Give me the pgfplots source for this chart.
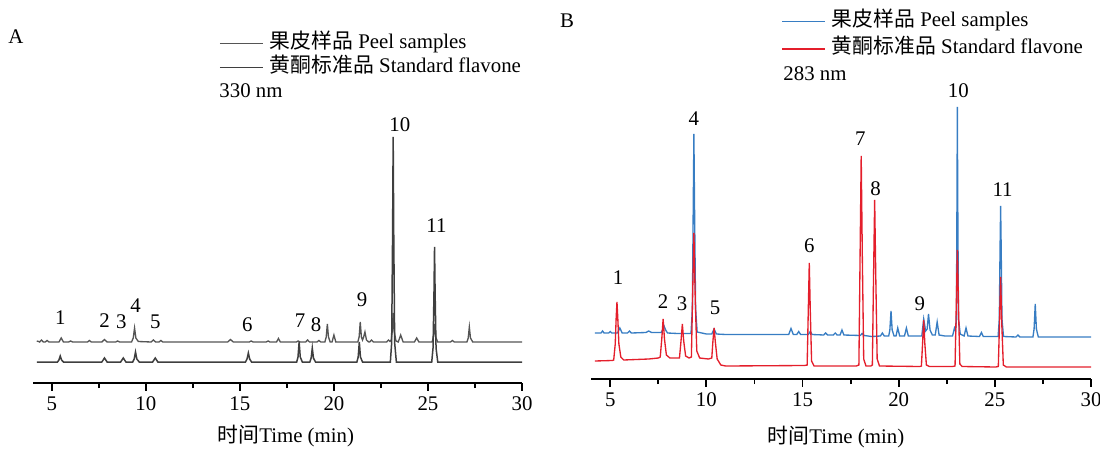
\documentclass[border=0pt]{standalone}
\usepackage{fontspec}
\setmainfont{Liberation Serif}
\newfontfamily\cjk{Noto Sans CJK SC}
\usepackage{pgfplots}
\pgfplotsset{compat=1.18}
\definecolor{peelA}{HTML}{555555}
\definecolor{stdA}{HTML}{3F3F3F}
\definecolor{peelB}{HTML}{377DC3}
\definecolor{stdB}{HTML}{E41E2B}
\newcommand\fs{\fontsize{12.5}{14}\selectfont}
\pgfplotsset{
  chrom/.style={
    scale only axis, clip=false,
    axis x line=bottom, axis y line=none,
    axis line style={-, line width=1.1pt},
    xmin=4, xmax=30, ymin=0,
    xtick={5,10,...,30}, minor xtick={7.5,12.5,...,27.5},
    tick align=outside, major tick length=4.5pt, minor tick length=3pt,
    every tick/.style={line width=1.1pt, black},
    /pgf/number format/assume math mode=true,
    ticklabel style={font=\fs},
    label style={font=\fs},
    legend cell align=left,
    legend image code/.code={\draw[#1] (0pt,0pt) -- (26pt,0pt); \path (28.5pt,0pt);},
    legend style={draw=none, fill=none, inner sep=0pt, font=\fs,
      nodes={inner sep=1pt, text height=9pt, text depth=3pt}},
  },
}
\begin{document}
\begin{tikzpicture}
\path[use as bounding box] (0,0) rectangle (660pt,270.6pt);
\node[font=\fs] at (9.6pt,248.4pt) {A};
\node[font=\fs] at (340.2pt,258pt) {B};

% panel A, 330 nm
\begin{axis}[chrom,
  at={(19.8pt,40.8pt)}, anchor=south west,
  width=293.4pt, height=217.8pt, ymax=363,
  xlabel={{\cjk 时间}Time (min)},
  xlabel style={at={(axis description cs:0.517,0)}, anchor=center, yshift=-32pt},
  legend style={at={(0.38,0.968)}, anchor=north west, row sep=0.4pt},
]
\addplot[peelA, line width=0.8pt] coordinates {
(4.2,42) (4.3,41.5) (4.35,41) (4.45,43) (4.55,41) (4.65,41) (4.75,42.5) (4.85,41)
(5.38,41) (5.5,45) (5.62,41) (5.9,41) (6.0,42) (6.1,41) (6.9,41) (7.0,42.5) (7.1,41)
(7.66,41) (7.8,43.5) (7.94,41) (8.4,41) (8.5,42) (8.6,41)
(9.24,41) (9.33,45) (9.4,55) (9.47,45) (9.6,41.5)
(10.28,41) (10.4,43) (10.52,41) (10.7,41) (10.8,42.5) (10.9,41)
(14.35,41) (14.5,43.5) (14.65,41) (15.5,41) (15.6,42) (15.7,41) (16.4,41) (16.5,42) (16.6,41)
(16.95,41) (17.05,44.5) (17.15,41) (18.0,41) (18.1,42) (18.2,41) (18.5,41) (18.6,43) (18.7,41)
(19.1,41) (19.2,42.5) (19.3,41)
(19.52,41) (19.59,46) (19.65,59) (19.71,46) (19.8,41) (19.9,41) (20.0,48) (20.1,41)
(21.27,41) (21.34,46) (21.4,61) (21.46,46) (21.52,43) (21.58,46) (21.65,51) (21.73,43) (21.85,41)
(21.9,41) (22.0,43) (22.1,41) (22.8,41) (22.9,43) (22.98,41.5)
(23.05,43) (23.1,52) (23.15,70) (23.2,52) (23.3,42)
(23.42,41) (23.55,48) (23.68,41) (24.28,41) (24.4,45) (24.52,41)
(25.22,41) (25.29,46) (25.35,59) (25.41,46) (25.52,41)
(26.2,41) (26.3,42.5) (26.4,41)
(27.07,41) (27.14,45) (27.2,56) (27.26,45) (27.38,41) (30,41)
};
\addlegendentry{{\cjk 果皮样品} Peel samples}
\addplot[stdA, line width=0.9pt] coordinates {
(4.2,21) (5.3,21) (5.38,23) (5.45,27) (5.52,23) (5.62,21)
(7.66,21) (7.8,25) (7.94,21) (8.66,21) (8.8,25) (8.94,21)
(9.3,21) (9.38,24) (9.45,31) (9.52,24) (9.65,21)
(10.36,21) (10.5,25) (10.64,21)
(15.3,21) (15.38,24) (15.45,30) (15.52,24) (15.62,21)
(18.02,21) (18.09,26) (18.15,41) (18.21,26) (18.32,21)
(18.72,21) (18.79,25) (18.85,35) (18.91,25) (19.02,21)
(21.22,21) (21.29,26) (21.35,41) (21.41,26) (21.52,21)
(23.0,21) (23.07,40) (23.12,150) (23.15,246) (23.18,150) (23.23,40) (23.32,21)
(25.2,21) (25.27,35) (25.32,90) (25.35,136) (25.38,90) (25.43,35) (25.52,21) (30,21)
};
\addlegendentry{{\cjk 黄酮标准品} Standard flavone}
\node[font=\fs, anchor=west] at (axis cs:13.6,292) {330 nm};
\node[font=\fs] at (axis cs:5.45,65) {1};
\node[font=\fs] at (axis cs:7.8,62) {2};
\node[font=\fs] at (axis cs:8.7,61) {3};
\node[font=\fs] at (axis cs:9.45,77) {4};
\node[font=\fs] at (axis cs:10.5,61) {5};
\node[font=\fs] at (axis cs:15.4,58) {6};
\node[font=\fs] at (axis cs:18.2,62) {7};
\node[font=\fs] at (axis cs:19.05,58) {8};
\node[font=\fs] at (axis cs:21.5,83) {9};
\node[font=\fs] at (axis cs:23.5,258) {10};
\node[font=\fs] at (axis cs:25.45,157) {11};
\end{axis}

% panel B, 283 nm
\begin{axis}[chrom,
  at={(354.6pt,43.2pt)}, anchor=south west,
  width=300pt, height=215.4pt, ymax=359,
  xlabel={{\cjk 时间}Time (min)},
  xlabel style={at={(axis description cs:0.49,0)}, anchor=center, yshift=-34.8pt},
  legend style={at={(0.38,1.029)}, anchor=north west, row sep=2.4pt},
]
\addplot[peelB, line width=0.8pt] coordinates {
(4.2,46) (4.5,46) (4.52,46) (4.6,48) (4.68,46) (4.92,46) (5.0,47.5) (5.08,46)
(5.38,46) (5.5,51) (5.62,46) (5.9,46) (6.0,48) (6.1,46) (6.85,46.5) (7.0,48) (7.15,46.5)
(7.65,46.5) (7.72,49) (7.8,53) (7.88,49) (7.98,46) (8.5,45.5)
(9.2,45.5) (9.27,70) (9.31,160) (9.35,245) (9.39,160) (9.44,70) (9.52,47)
(10.0,45) (10.28,45) (10.4,50) (10.52,45) (11,44.5) (12,44.5) (13,44.5)
(14.28,44.5) (14.4,50.5) (14.52,44.5) (14.7,44.5) (14.8,47.5) (14.9,44.5)
(15.3,44.5) (15.4,47.5) (15.5,44.5) (16.1,44) (16.2,46) (16.3,44) (16.6,44) (16.7,46) (16.8,44)
(16.95,44) (17.05,49) (17.15,44) (18.0,43.5) (18.1,45.5) (18.2,43.5) (18.6,42.5)
(19.05,43) (19.15,46) (19.25,43)
(19.48,43) (19.54,49) (19.6,68) (19.66,49) (19.76,43) (19.86,43) (19.95,51) (20.05,43)
(20.3,43) (20.4,51) (20.5,43) (21.0,43)
(21.2,43) (21.3,60) (21.4,48) (21.48,50) (21.55,65) (21.63,49) (21.75,44)
(21.9,44) (22.0,57) (22.1,44) (22.4,43) (22.8,43) (22.9,51) (22.96,48)
(23.0,60) (23.03,180) (23.05,272) (23.07,180) (23.11,60) (23.2,45)
(23.4,43) (23.5,51) (23.6,43) (24.2,42.5) (24.3,46.5) (24.4,42.5)
(25.17,42.5) (25.23,60) (25.27,130) (25.3,173) (25.33,130) (25.37,60) (25.45,42.5)
(26.1,42) (26.2,44) (26.3,42)
(26.98,42) (27.04,50) (27.1,75) (27.16,50) (27.26,42) (30,42)
};
\addlegendentry{{\cjk 果皮样品} Peel samples}
\addplot[stdB, line width=0.8pt] coordinates {
(4.2,18) (5.1,18.5)
(5.18,19) (5.26,35) (5.31,62) (5.35,77) (5.39,62) (5.45,35) (5.55,22) (5.7,19)
(7.0,20) (7.5,21)
(7.6,22) (7.68,40) (7.75,60) (7.82,40) (7.92,24) (8.1,21)
(8.6,21) (8.68,38) (8.75,55) (8.82,38) (8.92,23) (9.1,21)
(9.22,22) (9.28,80) (9.35,146) (9.42,80) (9.5,28) (9.65,21) (10.1,20)
(10.28,21) (10.34,38) (10.4,51) (10.46,38) (10.56,20) (10.75,14) (11,13)
(15.1,13.5) (15.24,14) (15.3,70) (15.35,116) (15.4,70) (15.47,18) (15.6,13)
(17.8,13) (17.93,14) (17.99,120) (18.05,223) (18.11,120) (18.18,20) (18.3,13) (18.55,13)
(18.63,14) (18.69,100) (18.75,179) (18.81,100) (18.88,20) (19.0,13)
(21.1,12.5) (21.18,13) (21.24,35) (21.3,59) (21.36,35) (21.44,14) (21.6,12.5)
(22.8,12.5) (22.93,13) (22.99,70) (23.05,129) (23.11,70) (23.18,15) (23.3,12.5)
(25.05,12) (25.18,12.5) (25.24,55) (25.3,102) (25.36,55) (25.44,14) (25.6,12) (30,12)
};
\addlegendentry{{\cjk 黄酮标准品} Standard flavone}
\node[font=\fs, anchor=west] at (axis cs:13.7,305) {283 nm};
\node[font=\fs] at (axis cs:5.41,101) {1};
\node[font=\fs] at (axis cs:7.75,77) {2};
\node[font=\fs] at (axis cs:8.74,75) {3};
\node[font=\fs] at (axis cs:9.35,260) {4};
\node[font=\fs] at (axis cs:10.45,71) {5};
\node[font=\fs] at (axis cs:15.35,133) {6};
\node[font=\fs] at (axis cs:18.0,240) {7};
\node[font=\fs] at (axis cs:18.8,190) {8};
\node[font=\fs] at (axis cs:21.1,75) {9};
\node[font=\fs] at (axis cs:23.1,288) {10};
\node[font=\fs] at (axis cs:25.4,189) {11};
\end{axis}
\end{tikzpicture}
\end{document}
